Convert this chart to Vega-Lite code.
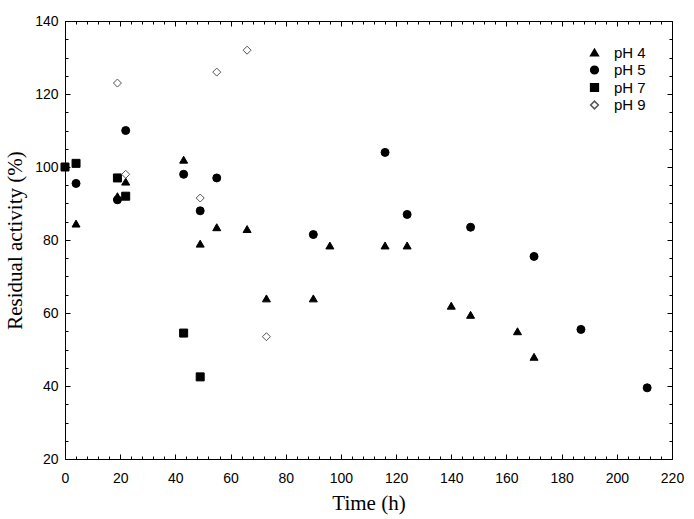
{
  "$schema": "https://vega.github.io/schema/vega-lite/v6.json",
  "width": 607,
  "height": 438,
  "autosize": "none",
  "padding": {"left": 65, "top": 21, "right": 22, "bottom": 60},
  "background": "white",
  "config": {
    "view": {"stroke": null},
    "axis": {
      "domainColor": "black",
      "tickColor": "black",
      "labelColor": "black",
      "labelFont": "Liberation Sans",
      "labelFontSize": 14,
      "labelFlush": false,
      "labelOverlap": false,
      "titleFont": "Liberation Serif",
      "titleFontSize": 21,
      "titleFontWeight": "normal",
      "titleColor": "black",
      "grid": false
    }
  },
  "data": {
    "values": [
      {"t": 4, "a": 84.5, "pH": "pH 4"},
      {"t": 19, "a": 92, "pH": "pH 4"},
      {"t": 22, "a": 96, "pH": "pH 4"},
      {"t": 43, "a": 102, "pH": "pH 4"},
      {"t": 49, "a": 79, "pH": "pH 4"},
      {"t": 55, "a": 83.5, "pH": "pH 4"},
      {"t": 66, "a": 83, "pH": "pH 4"},
      {"t": 73, "a": 64, "pH": "pH 4"},
      {"t": 90, "a": 64, "pH": "pH 4"},
      {"t": 96, "a": 78.5, "pH": "pH 4"},
      {"t": 116, "a": 78.5, "pH": "pH 4"},
      {"t": 124, "a": 78.5, "pH": "pH 4"},
      {"t": 140, "a": 62, "pH": "pH 4"},
      {"t": 147, "a": 59.5, "pH": "pH 4"},
      {"t": 164, "a": 55, "pH": "pH 4"},
      {"t": 170, "a": 48, "pH": "pH 4"},
      {"t": 4, "a": 95.5, "pH": "pH 5"},
      {"t": 19, "a": 91, "pH": "pH 5"},
      {"t": 22, "a": 110, "pH": "pH 5"},
      {"t": 43, "a": 98, "pH": "pH 5"},
      {"t": 49, "a": 88, "pH": "pH 5"},
      {"t": 55, "a": 97, "pH": "pH 5"},
      {"t": 90, "a": 81.5, "pH": "pH 5"},
      {"t": 116, "a": 104, "pH": "pH 5"},
      {"t": 124, "a": 87, "pH": "pH 5"},
      {"t": 147, "a": 83.5, "pH": "pH 5"},
      {"t": 170, "a": 75.5, "pH": "pH 5"},
      {"t": 187, "a": 55.5, "pH": "pH 5"},
      {"t": 211, "a": 39.5, "pH": "pH 5"},
      {"t": 0, "a": 100, "pH": "pH 7"},
      {"t": 4, "a": 101, "pH": "pH 7"},
      {"t": 19, "a": 97, "pH": "pH 7"},
      {"t": 22, "a": 92, "pH": "pH 7"},
      {"t": 43, "a": 54.5, "pH": "pH 7"},
      {"t": 49, "a": 42.5, "pH": "pH 7"},
      {"t": 19, "a": 123, "pH": "pH 9"},
      {"t": 22, "a": 98, "pH": "pH 9"},
      {"t": 49, "a": 91.5, "pH": "pH 9"},
      {"t": 55, "a": 126, "pH": "pH 9"},
      {"t": 66, "a": 132, "pH": "pH 9"},
      {"t": 73, "a": 53.5, "pH": "pH 9"}
    ]
  },
  "resolve": {"axis": {"x": "independent", "y": "independent"}},
  "layer": [
    {
      "mark": {"type": "point", "opacity": 0},
      "encoding": {
        "x": {"field": "t", "type": "quantitative",
          "axis": {"orient": "bottom", "values": [0,4,8,12,16,24,28,32,36,44,48,52,56,64,68,72,76,84,88,92,96,104,108,112,116,124,128,132,136,144,148,152,156,164,168,172,176,184,188,192,196,204,208,212,216], "labels": false, "domain": false, "tickSize": -3, "title": null}},
        "y": {"field": "a", "type": "quantitative",
          "axis": {"orient": "left", "values": [25,30,35,45,50,55,65,70,75,85,90,95,105,110,115,125,130,135], "labels": false, "domain": false, "tickSize": -3, "title": null}}
      }
    },
    {
      "mark": {"type": "point", "opacity": 0},
      "encoding": {
        "x": {"field": "t", "type": "quantitative",
          "axis": {"orient": "top", "values": [0,4,8,12,16,24,28,32,36,44,48,52,56,64,68,72,76,84,88,92,96,104,108,112,116,124,128,132,136,144,148,152,156,164,168,172,176,184,188,192,196,204,208,212,216], "labels": false, "domain": false, "tickSize": -3, "title": null}},
        "y": {"field": "a", "type": "quantitative",
          "axis": {"orient": "right", "values": [25,30,35,45,50,55,65,70,75,85,90,95,105,110,115,125,130,135], "labels": false, "domain": false, "tickSize": -3, "title": null}}
      }
    },
    {
      "mark": {"type": "point", "opacity": 0},
      "encoding": {
        "x": {"field": "t", "type": "quantitative",
          "axis": {"orient": "top", "values": [0,20,40,60,80,100,120,140,160,180,200,220], "labels": false, "tickSize": -5, "title": null}},
        "y": {"field": "a", "type": "quantitative",
          "axis": {"orient": "right", "values": [20,40,60,80,100,120,140], "labels": false, "tickSize": -5, "title": null}}
      }
    },
    {
      "mark": {"type": "point", "filled": true, "size": 64, "opacity": 1, "strokeWidth": 1},
      "encoding": {
        "x": {"field": "t", "type": "quantitative", "title": "Time (h)",
          "scale": {"domain": [0, 220], "nice": false, "zero": false},
          "axis": {"orient": "bottom", "values": [0,20,40,60,80,100,120,140,160,180,200,220], "tickSize": -5, "labelPadding": 17, "titlePadding": 7}},
        "y": {"field": "a", "type": "quantitative", "title": "Residual activity (%)",
          "scale": {"domain": [20, 140], "nice": false, "zero": false},
          "axis": {"orient": "left", "values": [20,40,60,80,100,120,140], "tickSize": -5, "labelPadding": 12, "titlePadding": 9}},
        "shape": {"field": "pH", "type": "nominal", "title": null,
          "scale": {"domain": ["pH 4", "pH 5", "pH 7", "pH 9"], "range": ["triangle-up", "circle", "square", "diamond"]},
          "legend": {"orient": "none", "legendX": 522, "legendY": 24, "labelFont": "Liberation Sans", "labelFontSize": 15, "labelColor": "black", "rowPadding": 1.5, "labelOffset": 12, "symbolSize": 60}},
        "fill": {"field": "pH", "type": "nominal", "title": null,
          "scale": {"domain": ["pH 4", "pH 5", "pH 7", "pH 9"], "range": ["black", "black", "black", "white"]}},
        "stroke": {"field": "pH", "type": "nominal", "title": null,
          "scale": {"domain": ["pH 4", "pH 5", "pH 7", "pH 9"], "range": ["black", "black", "black", "#555555"]}}
      }
    }
  ]
}
